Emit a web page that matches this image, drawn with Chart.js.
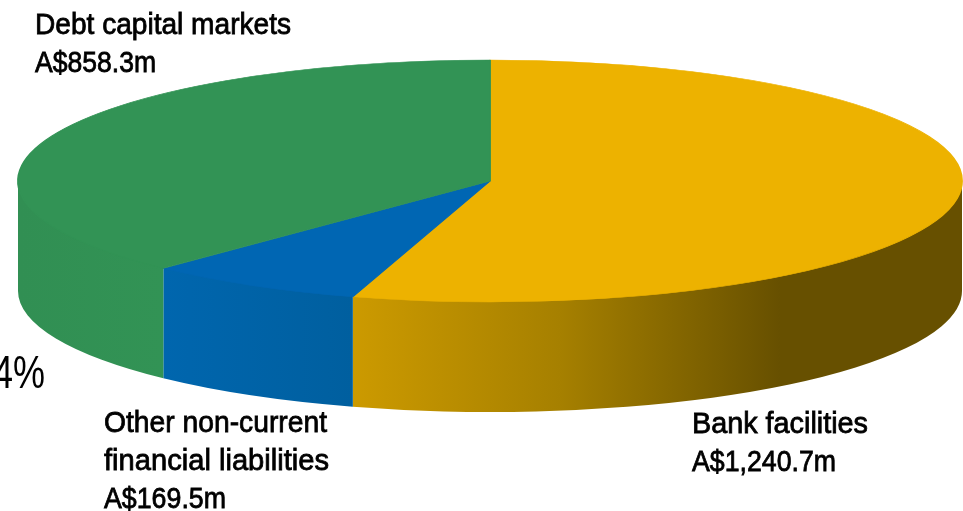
<!DOCTYPE html>
<html>
<head>
<meta charset="utf-8">
<title>Debt funding sources</title>
<script src="https://cdn.jsdelivr.net/npm/chart.js@4"></script>
<style>
  html, body { margin: 0; padding: 0; background: #fff; overflow: hidden; }
  canvas { display: block; }
</style>
</head>
<body>
<canvas id="pie" width="963" height="511"></canvas>
<script>
// Funding split in A$ millions, clockwise from twelve o'clock.
const categories = ['Bank facilities', 'Other non-current financial liabilities', 'Debt capital markets'];
const values = [1240.7, 169.5, 858.3];
const valueLabels = ['A$1,240.7m', 'A$169.5m', 'A$858.3m'];
const labelLines = [
  ['Bank facilities'],
  ['Other non-current', 'financial liabilities'],
  ['Debt capital markets']
];
const looseLabel = '4%';

const topColors = ['#EDB200', '#0066B3', '#329355'];

// Where each caption starts (left edge, first baseline) and how wide its lines run.
const captionAnchors = [[692, 433], [104, 432], [35, 34]];
const captionWidths = [[176, 144], [223, 225, 122], [256, 121]];

// Projection of the flat pie onto a tilted disc.
const disc = { cx: 490, cy: 181, rx: 472, ry: 121, depth: 110 };

// Horizontal shading of the rim, per slice: [x, colour] stops in page pixels.
const rimShades = [
  [[353, '#CC9A00'], [560, '#A68000'], [780, '#675000'], [962, '#675000']],
  [[164, '#0066AE'], [353, '#005F9F']],
  [[18, '#318F53'], [164, '#329355']]
];

const captionFont = '30px "Liberation Sans", Arial, sans-serif';
const looseFont = '46px "Liberation Sans", Arial, sans-serif';

const tiltedPie = {
  id: 'tiltedPie',
  beforeDatasetsDraw(chart) {
    const ctx = chart.ctx;
    const arcs = chart.getDatasetMeta(0).data;
    // Rim first: only the part of each slice that faces the viewer.
    arcs.forEach((arc, i) => {
      const a0 = Math.max(arc.startAngle, 0);
      const a1 = Math.min(arc.endAngle, Math.PI);
      if (a1 <= a0) return;
      const stops = rimShades[i];
      const first = stops[0][0], last = stops[stops.length - 1][0];
      const grad = ctx.createLinearGradient(first, 0, last, 0);
      stops.forEach(([px, col]) => grad.addColorStop((px - first) / (last - first), col));
      ctx.save();
      ctx.fillStyle = grad;
      ctx.beginPath();
      // Starts a pixel high so the top face overlaps it without a seam.
      ctx.ellipse(disc.cx, disc.cy - 1, disc.rx, disc.ry, 0, a0, a1);
      ctx.ellipse(disc.cx, disc.cy + disc.depth, disc.rx, disc.ry, 0, a1, a0, true);
      ctx.closePath();
      ctx.fill();
      ctx.restore();
    });
    // The slices themselves are squashed onto the top of the disc.
    const a = arcs[0];
    ctx.save();
    ctx.translate(disc.cx, disc.cy);
    ctx.scale(disc.rx / a.outerRadius, disc.ry / a.outerRadius);
    ctx.translate(-a.x, -a.y);
  },
  afterDatasetsDraw(chart) {
    const ctx = chart.ctx;
    ctx.restore();
    ctx.save();
    ctx.fillStyle = '#000';
    ctx.strokeStyle = '#000';
    ctx.lineWidth = 0.8;
    ctx.textAlign = 'left';
    ctx.textBaseline = 'alphabetic';
    ctx.font = captionFont;
    categories.forEach((_, i) => {
      const [x, y] = captionAnchors[i];
      [...labelLines[i], valueLabels[i]].forEach((line, n) => {
        const w = captionWidths[i][n];
        ctx.fillText(line, x, y + n * 38.2, w);
        ctx.strokeText(line, x, y + n * 38.2, w);
      });
    });
    ctx.font = looseFont;
    ctx.textAlign = 'right';
    ctx.fillText(looseLabel, 45, 388, 52);
    ctx.restore();
  }
};

new Chart(document.getElementById('pie'), {
  type: 'pie',
  data: {
    labels: categories,
    datasets: [{
      data: values,
      backgroundColor: topColors,
      borderColor: topColors,
      borderWidth: 1,
      clip: false
    }]
  },
  options: {
    responsive: false,
    animation: false,
    layout: { padding: 0 },
    plugins: { legend: { display: false }, tooltip: { enabled: false } }
  },
  plugins: [tiltedPie]
});
</script>
</body>
</html>
